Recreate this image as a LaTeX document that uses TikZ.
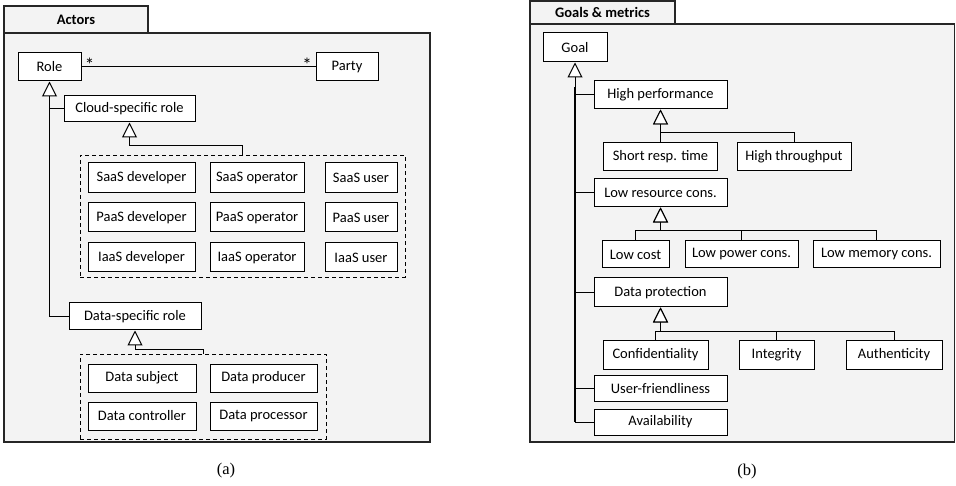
\documentclass[tikz,border=0pt]{standalone}
\usepackage{fontspec}
\setmainfont{Carlito}
\newfontfamily\capfont{Liberation Serif}
\usetikzlibrary{arrows.meta}
\definecolor{pane}{HTML}{F3F3F3}
\begin{document}
\begin{tikzpicture}[x=1pt,y=-1pt,
  every node/.style={font=\fontsize{14.5}{17}\selectfont},
  box/.style={draw=black,fill=white,line width=1pt,inner sep=0pt,
    minimum height=#1},
  box/.default=28,
  grp/.style={draw=black,line width=0.9pt,dash pattern=on 4pt off 3pt,
    inner sep=0pt},
  frame/.style={draw=black!85,fill=pane,line width=1.2pt},
  conn/.style={draw=black,line width=1pt},
  gen/.style={conn,-{Triangle[fill=white,length=15pt,width=15pt,line width=1pt]}},
  spine/.style={draw=black,line width=1.8pt},
  mult/.style={font=\fontsize{19}{21}\selectfont},
  tabtitle/.style={font=\fontsize{14.5}{17}\selectfont\bfseries},
  caption/.style={font=\capfont\fontsize{16.5}{19}\selectfont}]
\useasboundingbox (0,0) rectangle (956,486);

% ---------- (a) Actors ----------
\draw[frame] (4,6) rectangle (148,33);
\draw[frame] (4,33) rectangle (430,442);
\node[tabtitle] (tabA) at (76,20) {Actors};

\node[box, minimum width=63] (role) at (49.5,67) {Role};
\node[box, minimum width=62] (party) at (347,67) {Party};
\node[box=26, minimum width=131] (csr) at (129.5,109) {Cloud-specific role};

\node[grp, minimum width=325, minimum height=122] (cloudgrp) at (242.5,216) {};
\node[box=30, minimum width=107] (saasdev) at (141.5,178) {SaaS developer};
\node[box=30, minimum width=94]  (saasop)  at (257,178) {SaaS operator};
\node[box=30, minimum width=72]  (saasusr) at (361,178) {SaaS user};
\node[box=29, minimum width=107] (paasdev) at (141.5,217.5) {PaaS developer};
\node[box=29, minimum width=94]  (paasop)  at (257,217.5) {PaaS operator};
\node[box=29, minimum width=72]  (paasusr) at (361,217.5) {PaaS user};
\node[box=29, minimum width=107] (iaasdev) at (141.5,257.5) {IaaS developer};
\node[box=29, minimum width=94]  (iaasop)  at (257,257.5) {IaaS operator};
\node[box=29, minimum width=72]  (iaasusr) at (361,257.5) {IaaS user};

\node[box=27, minimum width=132] (dsr) at (135,316.5) {Data-specific role};

\node[grp, minimum width=246, minimum height=85] (datagrp) at (203,396.5) {};
\node[box, minimum width=108] (dsubj) at (142,378) {Data subject};
\node[box, minimum width=107] (dprod) at (263.5,378) {Data producer};
\node[box, minimum width=108] (dctrl) at (142,416) {Data controller};
\node[box, minimum width=107] (dproc) at (263.5,416) {Data processor};

% association Role -- Party
\draw[conn] (role.east) -- (party.west);
\node[mult] (mulA) at (89.5,64.5) {*};
\node[mult] (mulB) at (307,64.5) {*};

% generalisations
\draw[gen] (dsr.west) -| (role.south);
\draw[conn] (csr.west) -- (csr.west -| role.south);
\draw[gen] (cloudgrp.north) -- ++(0,-9) -| (csr.south);
\draw[gen] (datagrp.north) -- ++(0,-4) -| (dsr.south);

\node[caption] (capA) at (226,471) {(a)};

% ---------- (b) Goals & metrics ----------
\draw[frame] (530,1) rectangle (675,24);
\draw[frame] (530,24) rectangle (954.5,442);
\node[tabtitle] (tabB) at (602.5,12.5) {Goals \& metrics};

\node[box=29, minimum width=64] (goal) at (575,47.5) {Goal};
\node[box, minimum width=133] (hp) at (660.5,95) {High performance};
\node[box, minimum width=114] (srt) at (660.5,157) {Short resp. time};
\node[box, minimum width=114] (thr) at (794,157) {High throughput};
\node[box, minimum width=133] (lrc) at (660.5,193) {Low resource cons.};
\node[box=27, minimum width=67]  (lcost) at (635.5,254.5) {Low cost};
\node[box=27, minimum width=113] (lpow)  at (741.5,254.5) {Low power cons.};
\node[box=27, minimum width=127] (lmem)  at (876.5,254.5) {Low memory cons.};
\node[box=29, minimum width=133] (dp) at (660.5,292.5) {Data protection};
\node[box, minimum width=105] (conf) at (655.5,355) {Confidentiality};
\node[box, minimum width=75]  (integ) at (776.5,355) {Integrity};
\node[box, minimum width=96]  (auth) at (894,355) {Authenticity};
\node[box=26, minimum width=133] (uf) at (660.5,388.5) {User-friendliness};
\node[box=26, minimum width=133] (avail) at (660.5,422) {Availability};

% spine from Goal to its sub-goals
\draw[spine] (avail.west -| goal.south) -- ++(0,-335);
\draw[gen] (avail.west) -| (goal.south);
\foreach \n in {hp,lrc,dp,uf}
  \draw[conn] (\n.west) -- (\n.west -| goal.south);

% High performance
\draw[spine] (srt.north) -- ++(0,-19);
\draw[gen] (thr.north) -- ++(0,-10) -| (hp.south);
\draw[gen] (srt.north) -- (hp.south);

% Low resource consumption
\draw[spine] (lrc.south) ++(0,15) -- ++(0,9);
\foreach \n in {lcost,lpow,lmem}
  \draw[gen] (\n.north) -- ++(0,-10) -| (lrc.south);

% Data protection
\draw[spine] (dp.south) ++(0,15) -- ++(0,10);
\foreach \n in {conf,integ,auth}
  \draw[gen] (\n.north) -- ++(0,-9) -| (dp.south);

\node[caption] (capB) at (747,472) {(b)};
\end{tikzpicture}
\end{document}
